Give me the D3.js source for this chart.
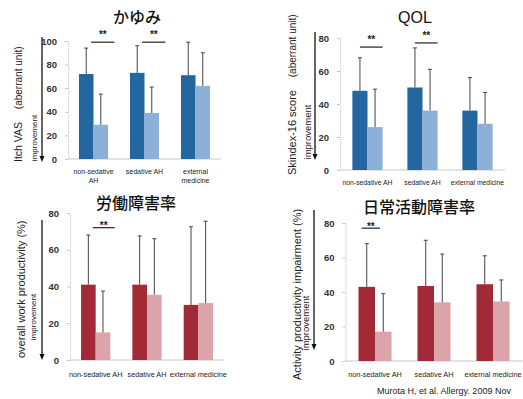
<!DOCTYPE html>
<html><head><meta charset="utf-8">
<script src="https://cdn.jsdelivr.net/npm/d3@7/dist/d3.min.js"></script>
<style>
html,body{margin:0;padding:0;background:#fff;}
svg{display:block;}
</style>
</head><body>
<svg id="c" width="523" height="399"></svg>
<script>
// ---------- DATA ----------
const titles = ["かゆみ", "QOL", "労働障害率", "日常活動障害率"];
const categoriesItch = ["non-sedative\nAH", "sedative AH", "external\nmedicine"];
const categories = ["non-sedative AH", "sedative AH", "external medicine"];
const series = ["before", "after"];

const itchBefore = [72, 73, 71];
const itchAfter = [29, 39, 62];
const itchBeforeSD = [22, 23, 28];
const itchAfterSD = [26, 22, 28];
const itchTicks = [0, 20, 40, 60, 80, 100];
const itchSig = [{cat: 0, y: 99}, {cat: 1, y: 99}];

const qolBefore = [48, 50, 36];
const qolAfter = [26, 36, 28];
const qolBeforeSD = [20, 24, 20];
const qolAfterSD = [23, 25, 19];
const qolTicks = [0, 20, 40, 60, 80];
const qolSig = [{cat: 0, y: 74.5}, {cat: 1, y: 77}];

const workBefore = [41, 41, 30];
const workAfter = [15, 35.5, 31];
const workBeforeSD = [27, 26.5, 42.5];
const workAfterSD = [22.5, 30.5, 44.5];
const workTicks = [0, 20, 40, 60, 80];
const workSig = [{cat: 0, y: 72}];

const actBefore = [43, 43.5, 44.5];
const actAfter = [17, 34, 34.5];
const actBeforeSD = [25, 26.5, 16.5];
const actAfterSD = [22, 28, 12.5];
const actTicks = [0, 20, 40, 60, 80];
const actSig = [{cat: 0, y: 77}];

const yLabelMain = ["Itch VAS", "Skindex-16 score", "overall work productivity (%)", "Activity productivity impairment (%)"];
const yLabelSub = ["(aberrant unit)", "(aberrant unit)", "", ""];
const arrowLabel = "improvement";
const citation = "Murota H, et al. Allergy. 2009 Nov";

// ---------- STYLE / LAYOUT ----------
const blueDark = "#24669f", blueLight = "#8db0d8";
const redDark = "#a22a36", redLight = "#dba3aa";
const fontLatin = "'Liberation Sans', Arial, sans-serif";
const fontCJK = "'Noto Sans CJK JP', sans-serif";

const svg = d3.select("#c");

const panels = [
  {title: titles[0], cats: categoriesItch, before: itchBefore, after: itchAfter, bSD: itchBeforeSD, aSD: itchAfterSD,
   ticks: itchTicks, max: 100, sig: itchSig, colors: [blueDark, blueLight],
   x0: 68, x1: 221, yTop: 41, yBot: 159, pad: 0.43,
   titleX: 137, titleY: 23, titleFont: fontCJK, titleSize: 16,
   arrowX: 42, arrowTop: 37, arrowBot: 162, impX: 34, impY: 138, impSize: 8,
   labX: 16, labBottom: 162, mainSize: 10.5, subSize: 10, gap: "\u3000",
   catY: 174, catSize: 7, sigA: 0.42, sigB: 1.22, sigDy: -4},
  {title: titles[1], cats: categories, before: qolBefore, after: qolAfter, bSD: qolBeforeSD, aSD: qolAfterSD,
   ticks: qolTicks, max: 80, sig: qolSig, colors: [blueDark, blueLight],
   x0: 340, x1: 505, yTop: 38, yBot: 170, pad: 0.45,
   titleX: 415, titleY: 23, titleFont: fontLatin, titleSize: 16,
   arrowX: 315, arrowTop: 32, arrowBot: 160, impX: 308, impY: 132, impSize: 9.5,
   labX: 290, labBottom: 175, mainSize: 11, subSize: 10, gap: "\u3000",
   catY: 185, catSize: 6.8, sigA: 0.25, sigB: 1.0, sigDy: -4},
  {title: titles[2], cats: categories, before: workBefore, after: workAfter, bSD: workBeforeSD, aSD: workAfterSD,
   ticks: workTicks, max: 80, sig: workSig, colors: [redDark, redLight],
   x0: 70, x1: 224, yTop: 213, yBot: 360, pad: 0.43,
   titleX: 136, titleY: 209, titleFont: fontCJK, titleSize: 16,
   arrowX: 42, arrowTop: 220, arrowBot: 360, impX: 33, impY: 317, impSize: 8,
   labX: 19, labBottom: 358, mainSize: 11, subSize: 11, gap: "",
   catY: 377, catSize: 7.3, sigA: 0.4, sigB: 1.15, sigDy: 1.5},
  {title: titles[3], cats: categories, before: actBefore, after: actAfter, bSD: actBeforeSD, aSD: actAfterSD,
   ticks: actTicks, max: 80, sig: actSig, colors: [redDark, redLight],
   x0: 345.5, x1: 522.5, yTop: 223, yBot: 361, pad: 0.44,
   titleX: 419, titleY: 213, titleFont: fontCJK, titleSize: 16,
   arrowX: 314, arrowTop: 210, arrowBot: 350, impX: 306, impY: 323, impSize: 9.5,
   labX: 295, labBottom: 380, mainSize: 11, subSize: 11, gap: "",
   catY: 377, catSize: 7.3, sigA: 0.1, sigB: 0.65, sigDy: 1.5}
];

panels.forEach((p, pi) => {
  const g = svg.append("g");
  const x = d3.scaleBand().domain(d3.range(p.cats.length)).range([p.x0, p.x1])
    .paddingInner(p.pad).paddingOuter(p.pad / 2);
  const xs = d3.scaleBand().domain(series).range([0, x.bandwidth()]);
  const y = d3.scaleLinear().domain([0, p.max]).range([p.yBot, p.yTop]);

  // title
  g.append("text").attr("x", p.titleX).attr("y", p.titleY).attr("text-anchor", "middle")
    .attr("font-family", p.titleFont).attr("font-size", p.titleSize)
    .attr("font-weight", p.titleFont === fontCJK ? 500 : "normal")
    .attr("fill", "#111").text(p.title);

  // axes
  const ax = g.append("g").attr("transform", `translate(${p.x0},0)`)
    .call(d3.axisLeft(y).tickValues(p.ticks).tickSize(3).tickPadding(8));
  ax.select(".domain").attr("stroke", "#c8c8c8").attr("stroke-dasharray", "1,1");
  ax.selectAll(".tick line").attr("stroke", "#c8c8c8");
  ax.selectAll(".tick text").attr("font-family", fontLatin).attr("font-size", 9.5)
    .attr("font-weight", "bold").attr("fill", "#333");
  g.append("line").attr("x1", p.x0).attr("x2", p.x1).attr("y1", y(0)).attr("y2", y(0))
    .attr("stroke", "#c8c8c8");

  // bars
  const rows = p.cats.map((c, i) => ({i, vals: [
    {s: "before", v: p.before[i], sd: p.bSD[i], col: p.colors[0]},
    {s: "after", v: p.after[i], sd: p.aSD[i], col: p.colors[1]}]}));
  const grp = g.selectAll(".grp").data(rows).enter().append("g")
    .attr("transform", d => `translate(${x(d.i)},0)`);
  grp.selectAll("rect").data(d => d.vals).enter().append("rect")
    .attr("x", d => xs(d.s)).attr("width", xs.bandwidth())
    .attr("y", d => y(d.v)).attr("height", d => y(0) - y(d.v)).attr("fill", d => d.col);
  // error bars
  grp.selectAll(".err").data(d => d.vals).enter().append("line")
    .attr("x1", d => xs(d.s) + xs.bandwidth() / 2).attr("x2", d => xs(d.s) + xs.bandwidth() / 2)
    .attr("y1", d => y(d.v)).attr("y2", d => y(d.v + d.sd)).attr("stroke", "#444").attr("stroke-width", 1);
  grp.selectAll(".cap").data(d => d.vals).enter().append("line")
    .attr("x1", d => xs(d.s) + xs.bandwidth() / 2 - 2).attr("x2", d => xs(d.s) + xs.bandwidth() / 2 + 2)
    .attr("y1", d => y(d.v + d.sd)).attr("y2", d => y(d.v + d.sd)).attr("stroke", "#444").attr("stroke-width", 1);

  // significance
  p.sig.forEach(s => {
    const xa = x(s.cat) + x.bandwidth() * p.sigA, xb = x(s.cat) + x.bandwidth() * p.sigB;
    g.append("line").attr("x1", xa).attr("x2", xb).attr("y1", y(s.y)).attr("y2", y(s.y))
      .attr("stroke", "#222").attr("stroke-width", 1.2);
    g.append("text").attr("x", (xa + xb) / 2).attr("y", y(s.y) + p.sigDy).attr("text-anchor", "middle")
      .attr("font-family", fontLatin).attr("font-size", 10).attr("font-weight", "bold")
      .attr("fill", "#222").text("**");
  });

  // category labels
  p.cats.forEach((c, i) => {
    const t = g.append("text").attr("x", x(i) + x.bandwidth() / 2).attr("y", p.catY)
      .attr("text-anchor", "middle").attr("font-family", fontLatin).attr("font-size", p.catSize)
      .attr("fill", "#222");
    c.split("\n").forEach((line, k) => {
      t.append("tspan").attr("x", x(i) + x.bandwidth() / 2).attr("dy", k === 0 ? 0 : p.catSize * 1.35).text(line);
    });
  });

  // arrow
  g.append("line").attr("x1", p.arrowX).attr("x2", p.arrowX).attr("y1", p.arrowTop).attr("y2", p.arrowBot - 5)
    .attr("stroke", "#111").attr("stroke-width", 1.3);
  g.append("path").attr("d", `M${p.arrowX - 2.5},${p.arrowBot - 6} L${p.arrowX + 2.5},${p.arrowBot - 6} L${p.arrowX},${p.arrowBot} Z`)
    .attr("fill", "#111");
  g.append("text").attr("transform", `translate(${p.impX},${p.impY}) rotate(-90)`)
    .attr("text-anchor", "middle").attr("dy", "0.35em").attr("font-family", fontLatin)
    .attr("font-size", p.impSize).attr("fill", "#222").text(arrowLabel);

  // y label
  const yl = g.append("text").attr("transform", `translate(${p.labX},${p.labBottom}) rotate(-90)`)
    .attr("text-anchor", "start").attr("dy", "0.35em").attr("font-family", fontLatin).attr("fill", "#222");
  yl.append("tspan").attr("font-size", p.mainSize).text(yLabelMain[pi]);
  if (yLabelSub[pi]) {
    yl.append("tspan").attr("font-size", p.subSize).text(" " + p.gap + yLabelSub[pi]);
  }
});

svg.append("text").attr("x", 377).attr("y", 394).attr("font-family", fontLatin)
  .attr("font-size", 9).attr("fill", "#222").text(citation);
</script>
</body></html>
